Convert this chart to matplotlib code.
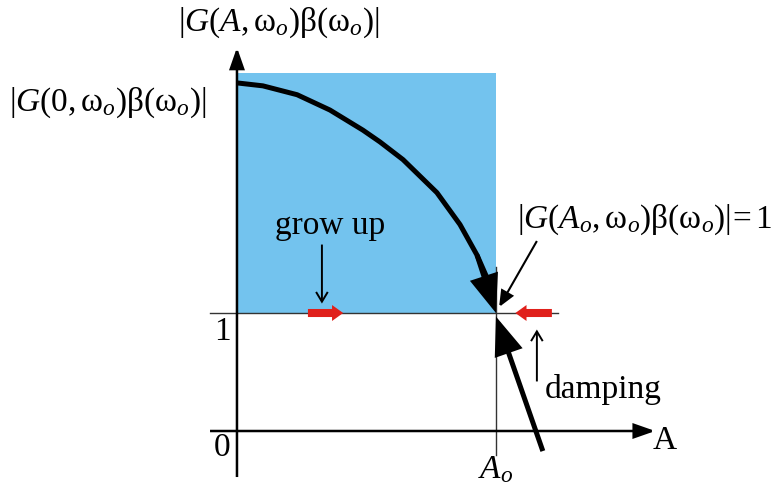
import matplotlib
matplotlib.use("Agg")
import matplotlib.pyplot as plt
from matplotlib.patches import Rectangle, FancyArrowPatch

plt.rcParams["font.family"] = "Liberation Serif"
plt.rcParams["mathtext.fontset"] = "custom"
plt.rcParams["mathtext.rm"] = "Liberation Serif"
plt.rcParams["mathtext.it"] = "Liberation Serif:italic"

# loop gain magnitude vs. oscillation amplitude (A normalised to A_o)
amp = [0.0, 0.1, 0.232, 0.359, 0.486, 0.552, 0.641, 0.772, 0.861, 0.927, 0.965, 1.0]
gain = [2.95, 2.925, 2.85, 2.72, 2.55, 2.45, 2.30, 2.02, 1.75, 1.49, 1.30, 1.0]
box_top = 3.03
a_osc = 1.0
unity = 1.0

BLUE = "#73c3ee"
RED = "#e0201b"


def arrow(ax, start, end, color="black", lw=1.2, hl=0.5, hw=0.2, scale=20,
          head="-|>", z=5):
    style = f"{head},head_length={hl},head_width={hw}"
    p = FancyArrowPatch(start, end, arrowstyle=style, mutation_scale=scale,
                        color=color, lw=lw, shrinkA=0, shrinkB=0, zorder=z,
                        joinstyle="miter", capstyle="butt")
    ax.add_patch(p)


def block_arrow(ax, start, end, color):
    # filled arrow outline, sizes in points
    style = "simple,head_length=8,head_width=11.5,tail_width=5.8"
    p = FancyArrowPatch(start, end, arrowstyle=style, mutation_scale=1,
                        facecolor=color, edgecolor="none", lw=0,
                        shrinkA=0, shrinkB=0, zorder=5)
    ax.add_patch(p)


fig = plt.figure(figsize=(7.78, 4.89), dpi=100)
ax = fig.add_axes([0, 0, 1, 1])
ax.set_xlim(-0.915, 2.089)
ax.set_ylim(-0.483, 3.661)
ax.axis("off")

# unstable region (gain above unity)
ax.add_patch(Rectangle((0, unity), a_osc, box_top - unity, facecolor=BLUE,
                       edgecolor="none", zorder=1))

# axes
arrow(ax, (0, -0.39), (0, 3.25), lw=1.8, hl=0.8, hw=0.28, scale=16)
arrow(ax, (-0.104, 0), (1.615, 0), lw=1.8, hl=0.8, hw=0.28, scale=16)
ax.plot([-0.104, 1.24], [unity, unity], color="#333333", lw=1.0, zorder=2)
ax.plot([a_osc, a_osc], [-0.2, 1.39], color="#333333", lw=1.0, zorder=2)

# gain curve, with arrowhead at the operating point
ax.plot(amp[:-1], gain[:-1], color="black", lw=3.6, zorder=4,
        solid_capstyle="butt", solid_joinstyle="round")
arrow(ax, (amp[-3], gain[-3]), (amp[-1], gain[-1]), lw=3.6, hl=1.05, hw=0.4,
      scale=20)
arrow(ax, (1.181, -0.17), (1.0, 0.97), lw=3.6, hl=1.05, hw=0.4, scale=20)

# pointer from the label to the operating point
arrow(ax, (1.158, 1.61), (1.012, 1.05), lw=1.5, hl=0.7, hw=0.3, scale=14)

# grow up / damping
arrow(ax, (0.328, 1.58), (0.328, 1.08), lw=1.4, hl=0.5, hw=0.3, scale=14,
      head="->")
arrow(ax, (1.158, 0.42), (1.158, 0.86), lw=1.4, hl=0.5, hw=0.3, scale=14,
      head="->")
block_arrow(ax, (0.274, unity), (0.41, unity), RED)
block_arrow(ax, (1.216, unity), (1.075, unity), RED)

fs = 24
ax.text(0.36, 1.62, "grow up", fontsize=fs, ha="center", va="bottom", zorder=6)
ax.text(1.19, 0.36, "damping", fontsize=fs, ha="left", va="center", zorder=6)
ax.text(-0.058, 0.85, "1", fontsize=fs, ha="center", va="center")
ax.text(-0.058, -0.13, "0", fontsize=fs, ha="center", va="center")
ax.text(1.65, -0.07, "A", fontsize=fs, ha="center", va="center")
ax.text(a_osc, -0.32, r"$A_o$", fontsize=fs, ha="center", va="center")

w = r"\mathrm{\omega}"
b = r"\mathrm{\beta}"
ax.text(0.16, 3.47, rf"$|G(A,{w}_o){b}({w}_o)|$", fontsize=fs,
        ha="center", va="center")
ax.text(-0.50, 2.79, rf"$|G(0,{w}_o){b}({w}_o)|$", fontsize=fs,
        ha="center", va="center")
ax.text(1.08, 1.80, rf"$|G(A_o,{w}_o){b}({w}_o)|\!=1$", fontsize=fs,
        ha="left", va="center")

fig.savefig("out.png", dpi=100)
